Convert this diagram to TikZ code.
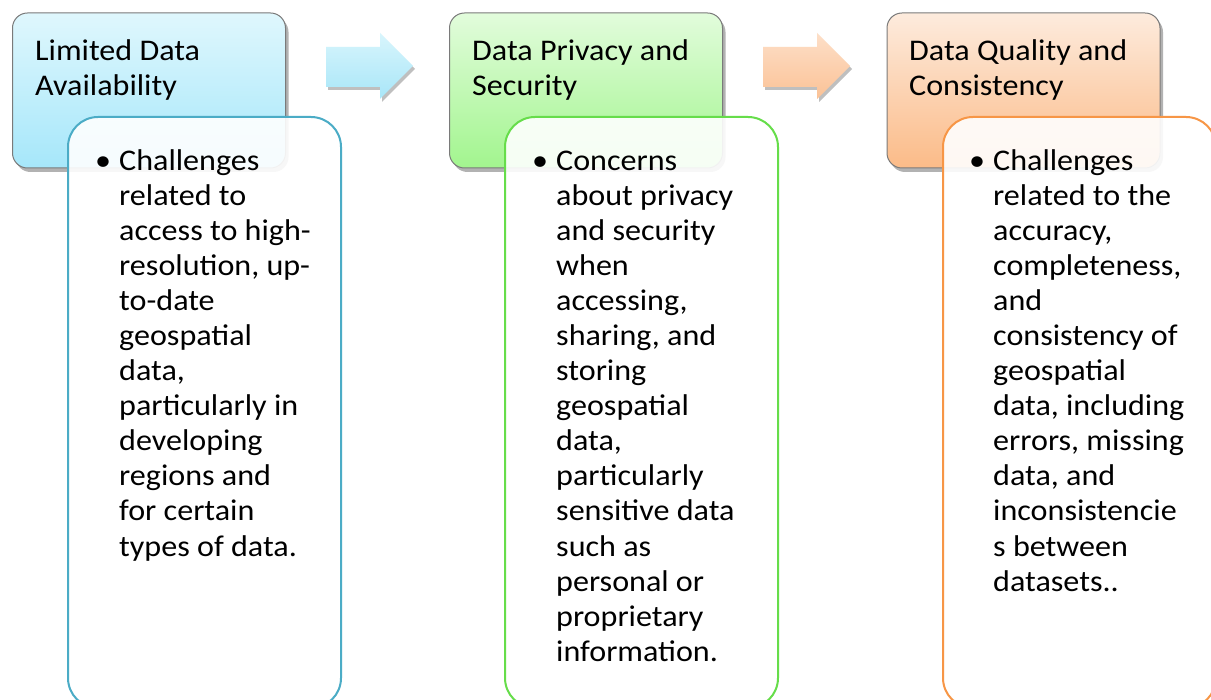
\documentclass[tikz,border=0pt]{standalone}
\usepackage{fontspec}
\setmainfont[FakeStretch=1.07]{Carlito}
\usetikzlibrary{shadows}
\definecolor{cAtop}{HTML}{DFF7FD}
\definecolor{cAbot}{HTML}{A6E7FA}
\definecolor{cBtop}{HTML}{E2FCDC}
\definecolor{cBbot}{HTML}{A2F58E}
\definecolor{cCtop}{HTML}{FDEBDD}
\definecolor{cCbot}{HTML}{FBBB88}
\definecolor{aAtop}{HTML}{D8F5FC}
\definecolor{aAbot}{HTML}{A8E6F8}
\definecolor{aBtop}{HTML}{FDDFC8}
\definecolor{aBbot}{HTML}{FBC296}
\definecolor{lA}{HTML}{4BACC6}
\definecolor{lB}{HTML}{66DD4A}
\definecolor{lC}{HTML}{F79646}
\definecolor{edgegray}{HTML}{7A7A7A}
\tikzset{
  headbox/.style={draw=edgegray, line width=1pt, rounded corners=15pt,
    minimum width=273pt, minimum height=155pt, inner sep=0pt,
    drop shadow={shadow xshift=3pt, shadow yshift=-4pt, opacity=0.3, fill=black}},
  bodybox/.style={draw, line width=2pt, rounded corners=30pt, fill=white,
    fill opacity=0.9, draw opacity=1, minimum width=273pt, minimum height=591pt, inner sep=0pt},
  blockarrow/.style={draw=none, drop shadow={shadow xshift=2pt, shadow yshift=-3pt, opacity=0.25, fill=black}},
  txt/.style={anchor=base west, inner sep=0pt, font=\fontsize{30}{35}\selectfont},
}
\begin{document}
\begin{tikzpicture}[x=1pt,y=-1pt]
\useasboundingbox (0,0) rectangle (1211,700);
\clip (0,0) rectangle (1211,700);
\fill[white] (0,0) rectangle (1211,700);

% block arrows
\path[blockarrow, top color=aAtop, bottom color=aAbot]
  (326,47) -- (380,47) -- (380,33) -- (413,66) -- (380,99) -- (380,87) -- (326,87) -- cycle;
\path[blockarrow, top color=aBtop, bottom color=aBbot]
  (763,47) -- (817,47) -- (817,33) -- (850,66) -- (817,99) -- (817,87) -- (763,87) -- cycle;

% header boxes
\node[headbox, top color=cAtop, bottom color=cAbot] (hA) at (149,90.5) {};
\node[headbox, top color=cBtop, bottom color=cBbot] (hB) at (586,90.5) {};
\node[headbox, top color=cCtop, bottom color=cCbot] (hC) at (1023.5,90.5) {};

\node[txt] (hA1) at (35,61) {Limited Data};
\node[txt] (hA2) at (35,96) {Availability};
\node[txt] (hB1) at (472,61) {Data Privacy and};
\node[txt] (hB2) at (472,96) {Security};
\node[txt] (hC1) at (909,61) {Data Quality and};
\node[txt] (hC2) at (909,96) {Consistency};

% body boxes
\node[bodybox, draw=lA] (bA) at (204.5,412.5) {};
\node[bodybox, draw=lB] (bB) at (641.5,412.5) {};
\node[bodybox, draw=lC] (bC) at (1079.5,412.5) {};

\node[txt] (dotA) at (95,171) {•};
\node[txt] (dotB) at (532,171) {•};
\node[txt] (dotC) at (969,171) {•};

\foreach \t [count=\i] in {{Challenges},{related to},{access to high-},{resolution, up-},{to-date},{geospatial},{data,},{particularly in},{developing},{regions and},{for certain},{types of data.}}
  \node[txt] (tA\i) at (119,{171+35*(\i-1)}) {\t};

\foreach \t [count=\i] in {{Concerns},{about privacy},{and security},{when},{accessing,},{sharing, and},{storing},{geospatial},{data,},{particularly},{sensitive data},{such as},{personal or},{proprietary},{information.}}
  \node[txt] (tB\i) at (556,{171+35*(\i-1)}) {\t};

\foreach \t [count=\i] in {{Challenges},{related to the},{accuracy,},{completeness,},{and},{consistency of},{geospatial},{data, including},{errors, missing},{data, and},{inconsistencie},{s between},{datasets..}}
  \node[txt] (tC\i) at (993,{171+35*(\i-1)}) {\t};
\end{tikzpicture}
\end{document}
